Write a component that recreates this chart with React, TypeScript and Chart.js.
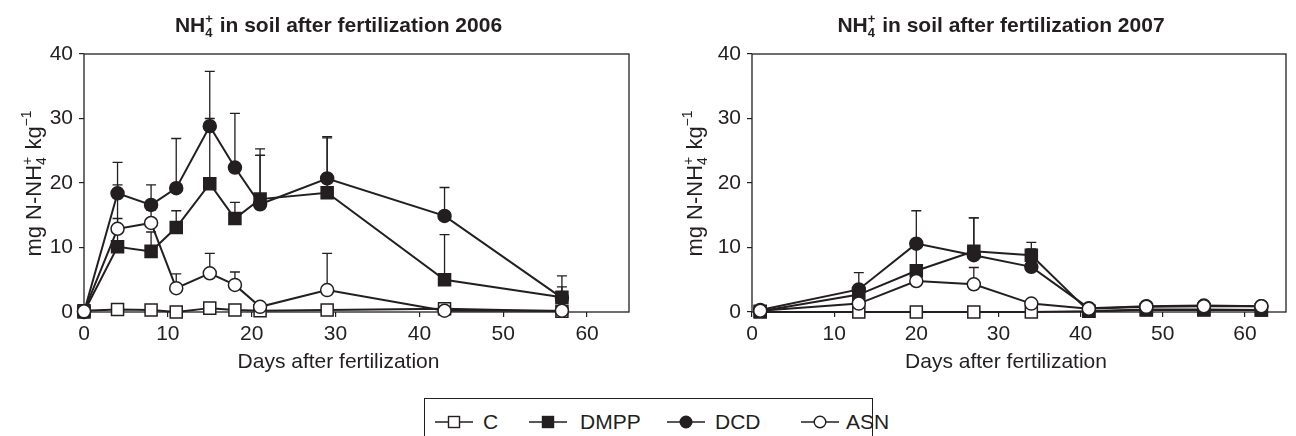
import React, { useEffect, useRef } from "react";
import { Chart, registerables } from "chart.js";

Chart.register(...registerables);

const INK = "#231f20";
const FONT = "'Liberation Sans', Arial, Helvetica, sans-serif";

// ---- data ----
const xTickValues = [0, 10, 20, 30, 40, 50, 60];
const yTickValues = [0, 10, 20, 30, 40];
const seriesNames = ["C", "DMPP", "DCD", "ASN"];

const days2006 = [0, 4, 8, 11, 15, 18, 21, 29, 43, 57];
const c2006 = [0.2, 0.4, 0.3, 0.0, 0.6, 0.3, 0.2, 0.3, 0.5, 0.1];
const dmpp2006 = [0.0, 10.1, 9.4, 13.1, 19.9, 14.5, 17.5, 18.5, 5.0, 2.3];
const dmppErr2006 = [0, 4.4, 3.0, 2.6, 10.1, 2.5, 6.8, 8.5, 7.0, 1.6];
const dcd2006 = [0.0, 18.4, 16.6, 19.2, 28.8, 22.4, 16.7, 20.7, 14.9, 2.2];
const dcdErr2006 = [0, 4.8, 3.1, 7.7, 8.5, 8.4, 8.6, 6.5, 4.4, 3.4];
const asn2006 = [0.1, 12.9, 13.8, 3.7, 6.0, 4.2, 0.8, 3.4, 0.2, 0.2];
const asnErr2006 = [0, 6.8, 2.0, 2.2, 3.1, 2.0, 0, 5.7, 0, 0];

const days2007 = [1, 13, 20, 27, 34, 41, 48, 55, 62];
const c2007 = [0.0, 0.0, 0.0, 0.0, 0.0, 0.1, 0.3, 0.3, 0.3];
const dmpp2007 = [0.1, 2.7, 6.4, 9.4, 8.8, 0.1, 0.4, 0.4, 0.3];
const dmppErr2007 = [0, 0, 4.0, 5.2, 1.0, 0, 0, 0, 0];
const dcd2007 = [0.3, 3.5, 10.6, 8.8, 7.0, 0.6, 0.9, 1.0, 0.9];
const dcdErr2007 = [0, 2.6, 5.1, 5.8, 3.8, 0, 0, 0, 0];
const asn2007 = [0.2, 1.3, 4.8, 4.3, 1.3, 0.5, 0.8, 0.9, 0.9];
const asnErr2007 = [0, 0, 0, 2.6, 0, 0, 0, 0, 0];

const xTitle = "Days after fertilization";
const titlePrefix = " in soil after fertilization ";

// ---- rich text helper ----
type Part = { t: string } | { stack: [string, string] } | { sup: string };

function drawRich(
  ctx: CanvasRenderingContext2D,
  parts: Part[],
  cx: number,
  cy: number,
  size: number,
  weight: string,
  rotate: boolean
) {
  ctx.save();
  const small = Math.round(size * 0.64);
  const setMain = () => (ctx.font = `${weight} ${size}px ${FONT}`);
  const setSmall = () => (ctx.font = `${weight} ${small}px ${FONT}`);
  const widths = parts.map((p: any) => {
    if (p.t !== undefined) {
      setMain();
      return ctx.measureText(p.t).width;
    }
    setSmall();
    if (p.stack) return Math.max(ctx.measureText(p.stack[0]).width, ctx.measureText(p.stack[1]).width) + 1;
    return ctx.measureText(p.sup).width + 1;
  });
  const w = widths.reduce((a, b) => a + b, 0);
  ctx.translate(cx, cy);
  if (rotate) ctx.rotate(-Math.PI / 2);
  ctx.textAlign = "left";
  ctx.textBaseline = "alphabetic";
  ctx.fillStyle = INK;
  let x = -w / 2;
  const base = size * 0.36;
  parts.forEach((p: any, i) => {
    if (p.t !== undefined) {
      setMain();
      ctx.fillText(p.t, x, base);
    } else if (p.stack) {
      setSmall();
      ctx.fillText(p.stack[0], x, base - size * 0.42);
      ctx.fillText(p.stack[1], x, base + size * 0.24);
    } else {
      setSmall();
      ctx.fillText(p.sup, x, base - size * 0.44);
    }
    x += widths[i];
  });
  ctx.restore();
}

// ---- plugin: frame, error bars, texts ----
const decorPlugin = {
  id: "decor",
  beforeDatasetsDraw(chart: any) {
    const ctx = chart.ctx as CanvasRenderingContext2D;
    const a = chart.chartArea;
    ctx.save();
    ctx.strokeStyle = INK;
    ctx.lineWidth = 1.3;
    ctx.strokeRect(a.left, a.top, a.right - a.left, a.bottom - a.top);
    const ys = chart.scales.y;
    chart.data.datasets.forEach((ds: any, i: number) => {
      const errs = ds.errors as number[] | undefined;
      if (!errs) return;
      const meta = chart.getDatasetMeta(i);
      meta.data.forEach((pt: any, j: number) => {
        const e = errs[j];
        if (!e) return;
        const top = ys.getPixelForValue(ds.data[j].y + e);
        ctx.beginPath();
        ctx.moveTo(pt.x, pt.y);
        ctx.lineTo(pt.x, top);
        ctx.moveTo(pt.x - 5, top);
        ctx.lineTo(pt.x + 5, top);
        ctx.stroke();
      });
    });
    ctx.restore();
  },
  afterDraw(chart: any) {
    const ctx = chart.ctx as CanvasRenderingContext2D;
    const a = chart.chartArea;
    const o = chart.options.plugins.decor;
    const mid = (a.left + a.right) / 2;
    drawRich(
      ctx,
      [{ t: "NH" }, { stack: ["+", "4"] }, { t: titlePrefix + o.year }],
      mid - 18,
      24,
      21,
      "bold",
      false
    );
    drawRich(ctx, [{ t: xTitle }], mid + o.xTitleShift, 360, 21, "normal", false);
    drawRich(
      ctx,
      [{ t: "mg N-NH" }, { stack: ["+", "4"] }, { t: " kg" }, { sup: "\u22121" }],
      a.left - o.yLabelGap,
      (a.top + a.bottom) / 2,
      22,
      "normal",
      true
    );
  },
};

function mk(days: number[], vals: number[]) {
  return days.map((d, i) => ({ x: d, y: vals[i] }));
}

function buildConfig(
  year: string,
  days: number[],
  c: number[],
  dmpp: number[],
  dmppErr: number[],
  dcd: number[],
  dcdErr: number[],
  asn: number[],
  asnErr: number[],
  yWidth: number,
  padRight: number,
  xTitleShift: number,
  yLabelGap: number
): any {
  const base = {
    borderColor: INK,
    borderWidth: 2,
    pointBorderColor: INK,
    pointBorderWidth: 1.5,
    tension: 0,
    clip: false as any,
    showLine: true,
  };
  const tickFont = { family: FONT, size: 21 };
  const grid = { drawOnChartArea: false, drawTicks: true, tickLength: 5, color: INK, lineWidth: 1.2 };
  return {
    type: "line",
    data: {
      datasets: [
        { ...base, label: seriesNames[3], data: mk(days, asn), errors: asnErr, pointStyle: "circle", pointRadius: 6.5, pointBackgroundColor: "#ffffff" },
        { ...base, label: seriesNames[1], data: mk(days, dmpp), errors: dmppErr, pointStyle: "rect", pointRadius: 8.5, pointBackgroundColor: INK },
        { ...base, label: seriesNames[2], data: mk(days, dcd), errors: dcdErr, pointStyle: "circle", pointRadius: 6.5, pointBackgroundColor: INK },
        { ...base, label: seriesNames[0], data: mk(days, c), pointStyle: "rect", pointRadius: 8.5, pointBackgroundColor: "#ffffff" },
      ],
    },
    options: {
      animation: false,
      responsive: false,
      maintainAspectRatio: false,
      layout: { padding: { top: 54, right: padRight, left: 0, bottom: 0 } },
      plugins: {
        legend: { display: false },
        tooltip: { enabled: false },
        title: { display: false },
        decor: { year, xTitleShift, yLabelGap },
      },
      scales: {
        x: {
          type: "linear",
          min: 0,
          max: 65,
          afterBuildTicks: (s: any) => {
            s.ticks = xTickValues.map((v) => ({ value: v }));
          },
          afterFit: (s: any) => {
            s.height = 78;
          },
          ticks: { font: tickFont, color: INK, padding: 5, maxRotation: 0, autoSkip: false },
          grid,
          border: { display: false },
        },
        y: {
          type: "linear",
          min: 0,
          max: 40,
          afterBuildTicks: (s: any) => {
            s.ticks = yTickValues.map((v) => ({ value: v }));
          },
          afterFit: (s: any) => {
            s.width = yWidth;
          },
          ticks: { font: tickFont, color: INK, padding: 6 },
          grid,
          border: { display: false },
        },
      },
    },
    plugins: [decorPlugin],
  };
}

function Symbol({ kind }: { kind: string }) {
  const filled = kind === "DMPP" || kind === "DCD";
  const square = kind === "C" || kind === "DMPP";
  return (
    <svg width={38} height={16} style={{ display: "block" }}>
      <line x1={0} y1={8} x2={38} y2={8} stroke={INK} strokeWidth={1.6} />
      {square ? (
        <rect x={13.5} y={2.5} width={11} height={11} fill={filled ? INK : "#fff"} stroke={INK} strokeWidth={1.4} />
      ) : (
        <circle cx={19} cy={8} r={5.8} fill={filled ? INK : "#fff"} stroke={INK} strokeWidth={1.4} />
      )}
    </svg>
  );
}

const legendPos = [
  { name: seriesNames[0], sym: 435, text: 483 },
  { name: seriesNames[1], sym: 529, text: 580 },
  { name: seriesNames[2], sym: 667, text: 715 },
  { name: seriesNames[3], sym: 801, text: 846 },
];

export default function App() {
  const leftRef = useRef<HTMLCanvasElement | null>(null);
  const rightRef = useRef<HTMLCanvasElement | null>(null);

  useEffect(() => {
    const c1 = new Chart(
      leftRef.current as HTMLCanvasElement,
      buildConfig("2006", days2006, c2006, dmpp2006, dmppErr2006, dcd2006, dcdErr2006, asn2006, asnErr2006, 84, 19, -18, 51)
    );
    const c2 = new Chart(
      rightRef.current as HTMLCanvasElement,
      buildConfig("2007", days2007, c2007, dmpp2007, dmppErr2007, dcd2007, dcdErr2007, asn2007, asnErr2007, 104, 1.5, -13, 58)
    );
    return () => {
      c1.destroy();
      c2.destroy();
    };
  }, []);

  return (
    <div
      style={{
        position: "absolute",
        left: 0,
        top: 0,
        width: 1296,
        height: 436,
        overflow: "hidden",
        background: "#fff",
        fontFamily: FONT,
      }}
    >
      <canvas ref={leftRef} width={648} height={390} style={{ position: "absolute", left: 0, top: 0 }} />
      <canvas ref={rightRef} width={648} height={390} style={{ position: "absolute", left: 648, top: 0 }} />
      <div
        style={{
          position: "absolute",
          left: 424,
          top: 398,
          width: 449,
          height: 60,
          border: `1.3px solid ${INK}`,
          boxSizing: "border-box",
        }}
      />
      {legendPos.map((l) => (
        <React.Fragment key={l.name}>
          <div style={{ position: "absolute", left: l.sym, top: 414 }}>
            <Symbol kind={l.name} />
          </div>
          <div
            style={{
              position: "absolute",
              left: l.text,
              top: 410,
              fontSize: 21,
              lineHeight: "24px",
              color: INK,
              whiteSpace: "nowrap",
            }}
          >
            {l.name}
          </div>
        </React.Fragment>
      ))}
    </div>
  );
}
